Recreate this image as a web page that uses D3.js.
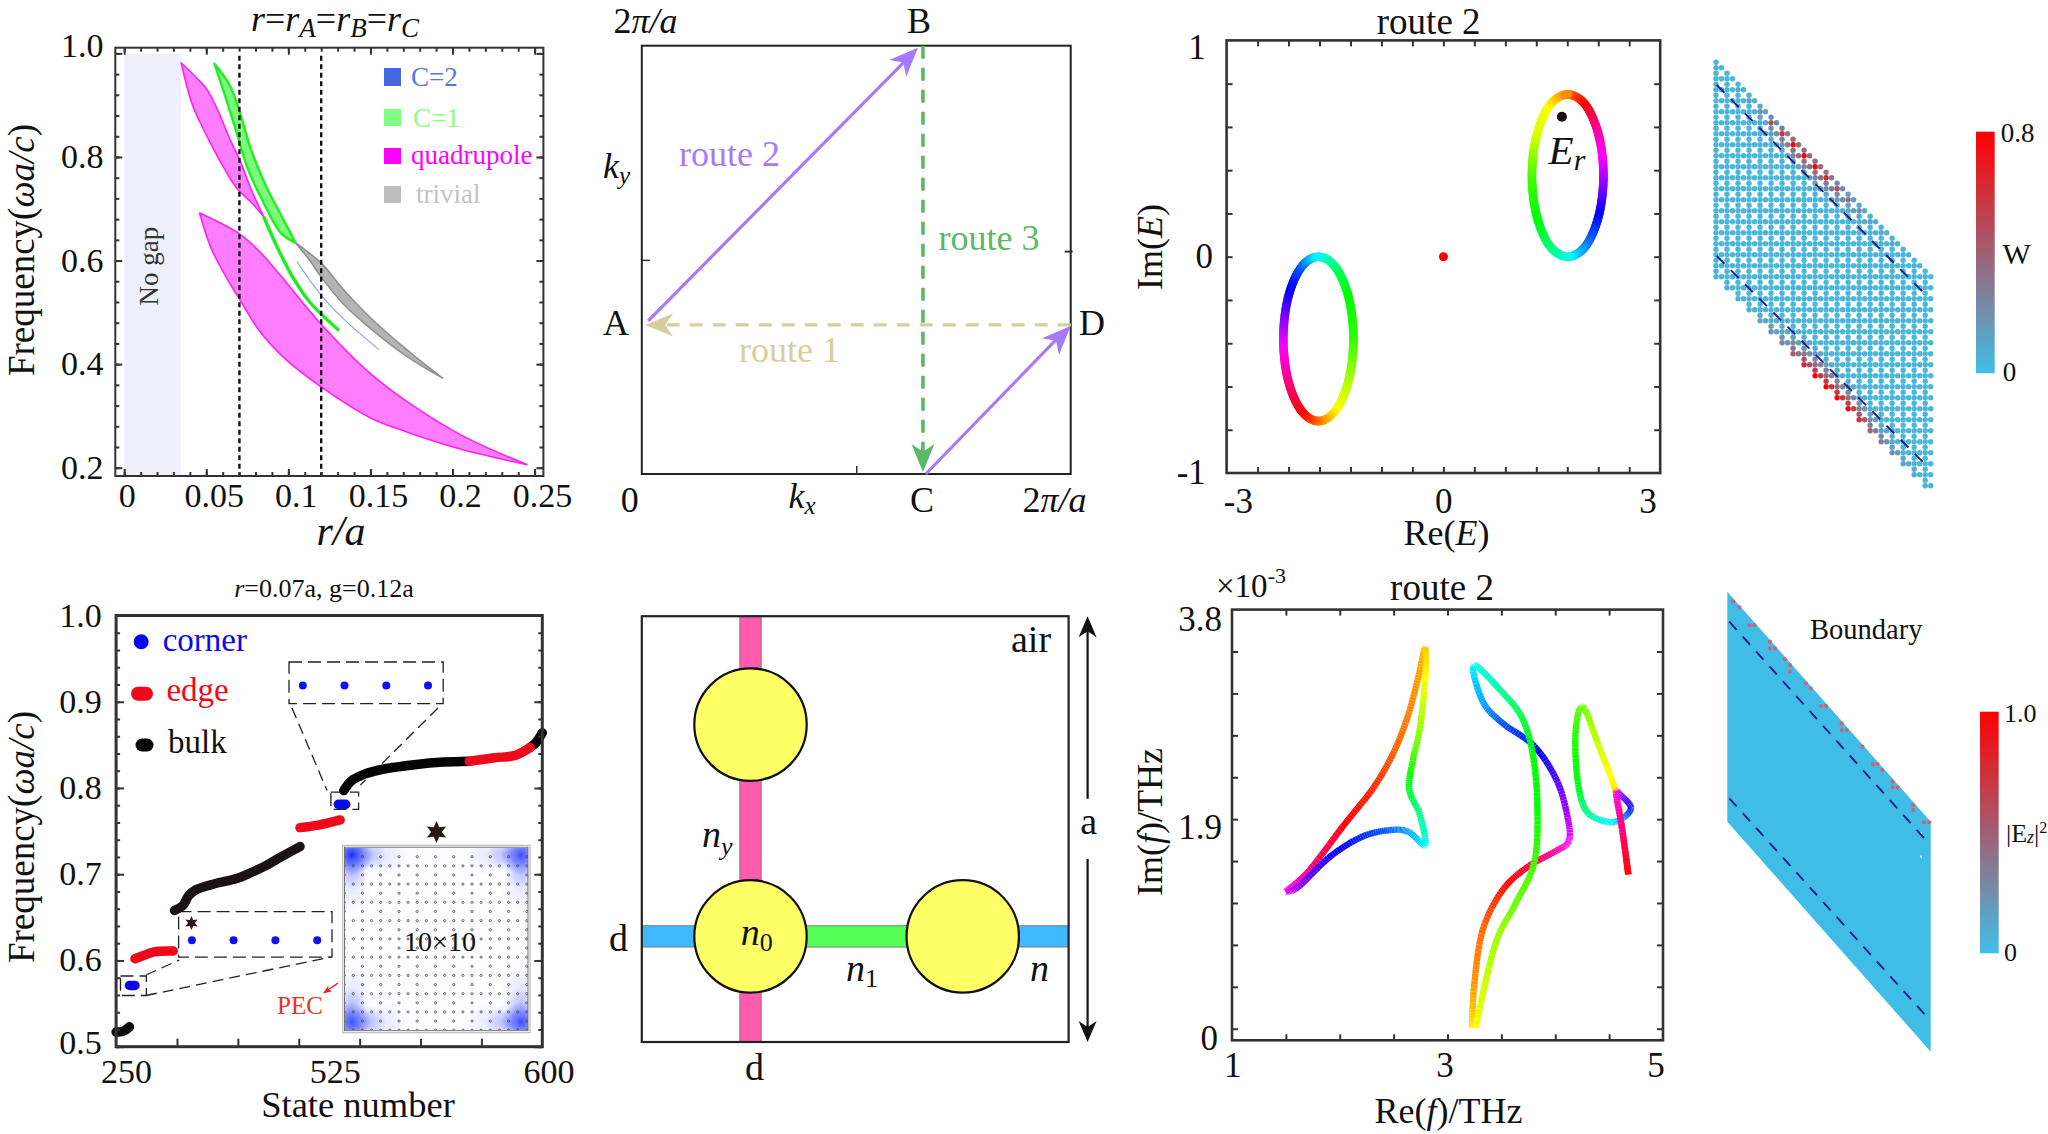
<!DOCTYPE html>
<html><head><meta charset="utf-8">
<style>html,body{margin:0;padding:0;background:#fff}svg{display:block}text{font-family:"Liberation Serif",serif;fill:#111}</style>
<script src="https://cdn.jsdelivr.net/npm/d3@7/dist/d3.min.js"></script></head><body>
<script>
// ---------- panel (a) phase diagram, band edges as [r/a, frequency]
const magentaTopUpper=[[.0347,.982],[.0437,.954],[.0505,.930],[.0572,.889],[.0640,.837],[.0707,.792],[.0775,.736],[.0849,.685]];
const magentaTopLower=[[.0347,.982],[.0414,.902],[.0482,.854],[.0572,.799],[.0685,.740],[.0775,.712],[.0849,.685]];
const greenTopUpper=[[.0550,.980],[.0640,.940],[.0696,.895],[.0775,.812],[.0865,.743],[.0955,.688],[.1045,.634]];
const greenTopLower=[[.0550,.980],[.0617,.916],[.0685,.847],[.0752,.778],[.0842,.716],[.0955,.653],[.1045,.634]];
const greenThin=[[.0849,.685],[.0932,.626],[.1023,.570],[.1135,.518],[.1309,.465]];
const grayUpper=[[.1045,.634],[.1203,.594],[.1338,.543],[.1495,.491],[.1721,.428],[.1939,.373]];
const grayLower=[[.1045,.634],[.1135,.598],[.1203,.567],[.1338,.515],[.1495,.470],[.1721,.415],[.1939,.373]];
const blueThin=[[.1052,.598],[.1203,.532],[.1338,.487],[.1552,.428]];
const magentaLowUpper=[[.0459,.692],[.0696,.653],[.0820,.619],[.0955,.570],[.1200,.477],[.1495,.383],[.1721,.328],[.2059,.262],[.2453,.206]];
const magentaLowLower=[[.0459,.692],[.0527,.626],[.0617,.570],[.0696,.529],[.0820,.466],[.0977,.411],[.1200,.356],[.1495,.297],[.1721,.269],[.2059,.235],[.2453,.206]];
const noGapEnd=.0347, dashedR=[.0702,.12];
const legendNames=['C=2','C=1','quadrupole','trivial'];
const legendSwatch=['#4466e0','#80ff80','#ff00ff','#bdbdbd'];
const legendText=['#5577e6','#88ff88','#ff00ff','#c4c4c4'];
const aYTicks=[.2,.4,.6,.8,1.0], aXTicks=[0,.05,.1,.15,.2,.25];
// ---------- panel (e) state spectrum as [state, frequency]
const bulk1=[[250,.517],[256,.518],[261,.523]];
const corner1=[[261,.571],[265.5,.571]];
const edge1=[[265.5,.602],[273,.606],[281,.610],[297,.611]];
const bulk2=[[298,.658],[305,.664],[309.5,.675],[315.6,.682],[331,.689],[349,.695],[361,.702],[373,.710],[385.4,.720],[401,.732]];
const edge2=[[401,.754],[416,.757],[434,.763]];
const corner2=[[432.5,.781],[438.5,.781]];
const bulk3=[[437,.797],[443,.808],[454,.816],[470,.822],[495,.827],[519,.830],[540,.831]];
const edge3=[[540,.831],[561,.835],[578,.838],[590,.847]];
const bulk4=[[590,.847],[595,.853],[600,.864]];
const eYTicks=[.5,.6,.7,.8,.9,1.0];
const eXTickLabels=['250','525','600'];
// ---------- panel (b) routes in units of 2π/a
const routeA=[0.01,.348], routeB=[.652,1], routeC=[.652,0], routeC2=[.662,0], routeD=[1,.348];
// ---------- panel (f) unit cell
const rodU=[.2547,.2547,.752], rodV=[.7454,.248,.248];
// ---------- panel (c) Re/Im E loops
const loopAx=[1.72,1.97,2.15,2.215,2.15,1.97,1.72,1.47,1.29,1.225,1.29,1.47];
const loopAy=[.75,.70,.56,.375,.19,.05,0,.05,.19,.375,.56,.70];
const loopAh=[30,0,-40,-75,-120,-150,-180,-210,-240,-255,-290,-300];
const loopBx=[-1.73,-1.49,-1.31,-1.245,-1.31,-1.49,-1.73,-1.97,-2.15,-2.215,-2.15,-1.97];
const loopBy=[0,-.05,-.19,-.38,-.57,-.71,-.76,-.71,-.57,-.38,-.19,-.05];
const loopBh=[-180,-210,-240,-250,-280,-300,-330,-360,-390,-425,-470,-500];
// ---------- panel (g) Re/Im f curves
const c1x=[1.498,1.714,2.047,2.312,2.495,2.628,2.728,2.794,2.794,2.744,2.678,2.645,2.744,2.794,2.645,2.478,2.213,1.914,1.615,1.498];
const c1y=[1.243,1.432,1.857,2.184,2.495,2.822,3.182,3.460,3.182,2.724,2.430,2.168,1.939,1.661,1.782,1.802,1.743,1.563,1.285,1.243];
const c1h=[300,330,360,370,382,390,397,405,420,445,470,490,515,540,560,575,590,605,635,660];
const c2x=[3.226,3.249,3.326,3.508,3.741,4.007,4.123,4.123,4.023,3.807,3.508,3.326,3.243,3.508,3.691,3.791,3.834,3.807,3.625,3.442,3.259];
const c2y=[.01,.402,.893,1.252,1.465,1.612,1.694,1.874,2.233,2.560,2.773,2.969,3.296,3.051,2.822,2.495,2.037,1.514,1.122,.762,.01];
const c2h=[55,35,25,5,-15,-40,-60,-75,-100,-125,-140,-160,-180,-205,-225,-240,-240,-255,-265,-280,-300];
const c3x=[4.678,4.621,4.565,4.605,4.704,4.621,4.488,4.289,4.206,4.189,4.256,4.405,4.555,4.621,4.678];
const c3y=[1.400,1.808,2.135,2.119,2.005,1.906,1.874,1.972,2.266,2.691,2.920,2.560,2.168,1.808,1.400];
const c3h=[0,-30,-60,-90,-120,-160,-180,-210,-240,-250,-265,-290,-305,-330,-360];
// ---------- panel (d) lattice intensity, one value per even lattice column
const wTopEdge=[.05,.05,.08,.12,.2,.45,.6,.8,.8,.8,.65,.5,.3,.2,.12,.1,.08,.06,.05,.05];
const wBottomEdge=[.05,.05,.06,.08,.1,.18,.25,.45,.65,.8,.8,.8,.75,.6,.4,.28,.2,.12,.08,.05];
const wTopDepth=[.45,1,.42,.3,.15,.08,.04];
const wBottomDepth=[1,.72,.45,.3,.18,.1,.05];
// ---------- panel (h) hot spots along the upper edge, white specks
const hotX=[18,36,66,81,128,128,143,173,188,188,236,250,281,296,343,343,358,405,436,450,465,496,496,511,558,558,590,605];
const hotY=[30,47,100,100,150,170,170,203,220,240,275,290,343,343,395,415,415,465,517,517,535,570,587,587,640,655,692,692];
const speckX=[581,581], speckY=[725,795];

const svg=d3.select('body').append('svg').attr('width',2048).attr('height',1134).attr('viewBox','0 0 2048 1134');
const defs=svg.append('defs');
function txt(x,y,parts,o={}){
  const t=svg.append('text').attr('x',x).attr('y',y).attr('font-size',o.size||33)
    .attr('text-anchor',o.anchor||'start');
  if(o.fill)t.style('fill',o.fill);
  if(o.rot)t.attr('transform',`rotate(${o.rot} ${x} ${y})`);
  if(o.weight)t.attr('font-weight',o.weight);
  (Array.isArray(parts)?parts:[parts]).forEach(p=>{
    if(typeof p==='string')p={t:p};
    const s=t.append('tspan').text(p.t);
    if(p.i)s.attr('font-style','italic');
    if(p.size)s.attr('font-size',p.size);
    if(p.dy)s.attr('dy',p.dy);
    if(p.dx)s.attr('dx',p.dx);
  });
  return t;
}
function frame(x0,x1,y0,y1,stroke,w){
  svg.append('rect').attr('x',x0).attr('y',y0).attr('width',x1-x0).attr('height',y1-y0)
    .attr('fill','none').attr('stroke',stroke||'#333').attr('stroke-width',w||2.5);
}
function ticks(axisFn,scale,vals,len,tx,ty,color,w){
  const g=svg.append('g').attr('transform',`translate(${tx},${ty})`)
    .call(axisFn(scale).tickValues(vals).tickSize(-len).tickFormat(''));
  g.select('.domain').remove();
  g.selectAll('line').attr('stroke',color||'#333').attr('stroke-width',w||2);
}
function allTicks(x,y,xMaj,xMin,yMaj,yMin,box,lenMaj,lenMin,sides){
  const [x0,x1,y0,y1]=box;
  const s=sides||'lrbt';
  if(s.includes('b')){ticks(d3.axisBottom,x,xMin,lenMin,0,y1);ticks(d3.axisBottom,x,xMaj,lenMaj,0,y1);}
  if(s.includes('t')){ticks(d3.axisTop,x,xMin,lenMin,0,y0);ticks(d3.axisTop,x,xMaj,lenMaj,0,y0);}
  if(s.includes('l')){ticks(d3.axisLeft,y,yMin,lenMin,x0,0);ticks(d3.axisLeft,y,yMaj,lenMaj,x0,0);}
  if(s.includes('r')){ticks(d3.axisRight,y,yMin,lenMin,x1,0);ticks(d3.axisRight,y,yMaj,lenMaj,x1,0);}
}
function head(tip,from,L,W,fill){
  const a=Math.atan2(tip[1]-from[1],tip[0]-from[0]);
  const pt=(d,s)=>[tip[0]-d*Math.cos(a)-s*Math.sin(a),tip[1]-d*Math.sin(a)+s*Math.cos(a)];
  const p=[tip,pt(L,W/2),pt(L*.72,0),pt(L,-W/2)];
  svg.append('path').attr('d','M'+p.join('L')+'Z').attr('fill',fill);
}
function star(cx,cy,R,r,fill){
  const pts=d3.range(12).map(i=>[i*Math.PI/6,i%2?r:R]);
  svg.append('path').attr('transform',`translate(${cx},${cy})`)
    .attr('d',d3.lineRadial().curve(d3.curveLinearClosed)(pts)).attr('fill',fill);
}
function ribbon(xs,ys,hs,x,y,w,closed,reverse,cap){
  const n=xs.length, segs=[];
  const idx=i=>closed?(i+n)%n:Math.max(0,Math.min(n-1,i));
  const m=closed?n:n-1;
  const cr=(a,b,c,d,t)=>.5*(2*b+(c-a)*t+(2*a-5*b+4*c-d)*t*t+(3*b-a-3*c+d)*t*t*t);
  const px=[];
  for(let i=0;i<m;i++){
    const j=[i-1,i,i+1,i+2].map(idx);
    let h0=hs[i],h1=(closed&&i===n-1)?hs[0]-360:hs[i+1];
    for(let k=0;k<14;k++){
      const t=k/14;
      px.push({x:cr(xs[j[0]],xs[j[1]],xs[j[2]],xs[j[3]],t),y:cr(ys[j[0]],ys[j[1]],ys[j[2]],ys[j[3]],t),h:h0+(h1-h0)*t});
    }
  }
  px.push(closed?{...px[0]}:{x:xs[n-1],y:ys[n-1],h:hs[n-1]});
  for(let i=0;i<px.length-1;i++)segs.push([px[i],px[i+1]]);
  if(reverse)segs.reverse();
  const ln=d3.line().x(d=>x(d.x)).y(d=>y(d.y));
  svg.append('g').selectAll('path').data(segs).join('path').attr('d',ln).attr('fill','none')
    .attr('stroke-width',w).attr('stroke-linecap',cap||'round')
    .attr('stroke',d=>d3.hsl(((d[0].h%360)+360)%360,1,.5).formatRgb());
}
// ======================= panel a =======================
{
const box=[115.3,543.4,47.7,476];
const x=d3.scaleLinear([0,.25],[124.2,534.6]), y=d3.scaleLinear([.2,1],[467.7,53.4]);
svg.append('rect').attr('x',x(0)).attr('y',y(1)).attr('width',x(noGapEnd)-x(0)).attr('height',box[3]-y(1)-1).attr('fill','#f0f0fd');
const ln=d3.line().x(d=>x(d[0])).y(d=>y(d[1])).curve(d3.curveCatmullRom);
const band=(u,l,f,s,w)=>svg.append('path').attr('d',ln(u)+'L'+ln(l.slice().reverse()).slice(1)+'Z').attr('fill',f).attr('stroke',s).attr('stroke-width',w).attr('stroke-linejoin','round');
band(magentaTopUpper,magentaTopLower,'#ff7dff','#ff22ee',1.6);
band(magentaLowUpper,magentaLowLower,'#ff7dff','#ff22ee',1.6);
band(greenTopUpper,greenTopLower,'#7dfb7d','#22ee22',2.4);
band(grayUpper,grayLower,'#b4b4b4','#909090',1.6);
svg.append('path').attr('d',ln(greenThin)).attr('fill','none').attr('stroke','#1eee1e').attr('stroke-width',3.4);
svg.append('path').attr('d',ln(blueThin)).attr('fill','none').attr('stroke','#90a4f4').attr('stroke-width',1.2);
dashedR.forEach(r=>svg.append('line').attr('x1',x(r)).attr('x2',x(r)).attr('y1',box[2]+8).attr('y2',box[3])
  .attr('stroke','#111').attr('stroke-width',2.4).attr('stroke-dasharray','5 3.5'));
frame(box[0],box[1],box[2],box[3],'#333',2);
allTicks(x,y,aXTicks,d3.range(0,.2501,.01),aYTicks,d3.range(.2,1.001,.04),box,7,4);
legendNames.forEach((n,i)=>{
  const ys=[68,109,148,186][i], hs=[18,17,16,17][i];
  svg.append('rect').attr('x',384).attr('y',ys).attr('width',17).attr('height',hs).attr('fill',legendSwatch[i]);
  txt([411,413,411,416][i],[85.5,127,164,202.5][i],n,{size:27,fill:legendText[i]});
});
aYTicks.forEach(v=>txt(103.5,y(v)+(v===1?4:11),v.toFixed(1),{anchor:'end',size:34}));
aXTicks.forEach((v,i)=>txt(x(v)+(i?8:3),507,String(v),{anchor:'middle',size:34}));
txt(34,250,['Frequency(',{t:'ωa/c',i:1},')'],{rot:-90,anchor:'middle',size:37});
txt(341,545,[{t:'r/a',i:1}],{anchor:'middle',size:42});
txt(158,266,'No gap',{rot:-90,anchor:'middle',size:27,fill:'#333'});
txt(251,30.5,[{t:'r',i:1},'=',{t:'r',i:1},{t:'A',i:1,size:27,dy:6},{t:'=',dy:-6},{t:'r',i:1},{t:'B',i:1,size:27,dy:6},{t:'=',dy:-6},{t:'r',i:1},{t:'C',i:1,size:27,dy:6}],{size:36});
}
// ======================= panel e =======================
{
const box=[116.1,542.3,615.5,1046.7];
const x=d3.scaleLinear([250,600],[box[0],box[1]]), y=d3.scaleLinear([.5,1],[box[3],box[2]]);
const ln=d3.line().x(d=>x(d[0])).y(d=>y(d[1])).curve(d3.curveCatmullRom);
// inset
const ix=d3.scaleLinear([0,19],[353.3,526.8]), iy=d3.scaleLinear([0,19],[856.7,1030.2]);
const rg=defs.append('radialGradient').attr('id','glow');
rg.append('stop').attr('offset','0').attr('stop-color','#1c2cff').attr('stop-opacity',1);
rg.append('stop').attr('offset','.45').attr('stop-color','#3c50ff').attr('stop-opacity',.75);
rg.append('stop').attr('offset','1').attr('stop-color','#6070ff').attr('stop-opacity',0);
svg.append('clipPath').attr('id','ic').append('rect').attr('x',345).attr('y',848).attr('width',183).attr('height',182);
const ig=svg.append('g').attr('clip-path','url(#ic)');
ig.insert('rect').attr('x',345).attr('y',848).attr('width',183).attr('height',182).attr('fill','#fdfdff');
[[0,0,1,21],[20,0,.85,20],[0,20,.85,20],[20,20,.85,20]].forEach(([a,b,o,r])=>{
  const cx=a?521:352, cy=b?1022:855;
  ig.append('circle').attr('cx',cx).attr('cy',cy).attr('r',r).attr('fill','url(#glow)').attr('opacity',o);
  [[a?-18:18,0],[0,b?-18:18]].forEach(([dx,dy])=>ig.append('circle').attr('cx',cx+dx).attr('cy',cy+dy).attr('r',17).attr('fill','url(#glow)').attr('opacity',.28));
  [[a?-36:36,0],[0,b?-36:36]].forEach(([dx,dy])=>ig.append('circle').attr('cx',cx+dx).attr('cy',cy+dy).attr('r',20).attr('fill','url(#glow)').attr('opacity',.09));
});
const nodes=[];
d3.range(-1,20).forEach(i=>d3.range(0,20).forEach(j=>{if(Math.abs(i%2)===1||j%2===1)nodes.push([i,j]);}));
ig.append('g').selectAll('circle').data(nodes).join('circle').attr('cx',d=>ix(d[0])).attr('cy',d=>iy(d[1]))
  .attr('r',1.1).attr('fill','none').attr('stroke','#444').attr('stroke-width',.8);
svg.append('rect').attr('x',342.7).attr('y',845.3).attr('width',187.3).attr('height',187.4).attr('fill','none').attr('stroke','#bbb').attr('stroke-width',1.2);
svg.append('rect').attr('x',344.5).attr('y',847.2).attr('width',183.5).attr('height',183.5).attr('fill','none').attr('stroke','#666').attr('stroke-width',.9);
txt(440,950.7,'10×10',{anchor:'middle',size:28});
// zoom guides
const dash=(p,q)=>svg.append('line').attr('x1',p[0]).attr('y1',p[1]).attr('x2',q[0]).attr('y2',q[1]).attr('stroke','#222').attr('stroke-width',1.3).attr('stroke-dasharray','11 6');
[[289,662,154.2,41.7],[330.9,792.2,27.7,17.2],[178.6,911.6,153.4,45.5],[120.5,976,25.9,19.5]].forEach(([a,b,w,h])=>
  svg.append('rect').attr('x',a).attr('y',b).attr('width',w).attr('height',h).attr('fill','none').attr('stroke','#222').attr('stroke-width',1.3).attr('stroke-dasharray','13 6'));
dash([292,708],[327,790.4]);dash([438,708],[360.4,785]);dash([146,975],[179.3,960]);dash([146,995.5],[330.9,957]);
[302.8,344.5,386.3,428].forEach(v=>svg.append('circle').attr('cx',v).attr('cy',685.4).attr('r',4).attr('fill','#1010ee'));
[191.9,233.6,275.4,317.2].forEach(v=>svg.append('circle').attr('cx',v).attr('cy',940.3).attr('r',4).attr('fill','#1010ee'));
star(191.5,923,7,3.4,'#2a1a14');
star(436.5,832,11,5.5,'#2a1a14');
// spectrum
[[bulk1,'#0a0a0a'],[bulk2,'#1a1214'],[bulk3,'#050505'],[bulk4,'#050505'],[edge1,'#ee0a1a'],[edge2,'#ee0a1a'],[edge3,'#ee0a1a'],[corner1,'#0808ee'],[corner2,'#0808ee']].forEach(([d,c])=>
  svg.append('path').attr('d',ln(d)).attr('fill','none').attr('stroke',c).attr('stroke-width',9.5).attr('stroke-linecap','round'));
frame(box[0],box[1],box[2],box[3],'#333',3);
allTicks(x,y,d3.range(300,551,50),[],eYTicks,d3.range(.5,1.001,.02),box,8,4,'blr');
// legend
svg.append('circle').attr('cx',141.2).attr('cy',641.7).attr('r',7.5).attr('fill','#0808ee');
svg.append('line').attr('x1',138).attr('x2',146).attr('y1',693.7).attr('y2',693.7).attr('stroke','#ee0a1a').attr('stroke-width',14).attr('stroke-linecap','round');
svg.append('line').attr('x1',142).attr('x2',147).attr('y1',745).attr('y2',745).attr('stroke','#050505').attr('stroke-width',13).attr('stroke-linecap','round');
txt(162.7,650.6,'corner',{size:33,fill:'#0808ee'});
txt(166.4,701,'edge',{size:33,fill:'#ee0a1a'});
txt(168,753,'bulk',{size:33});
eYTicks.forEach(v=>txt(101.7,y(v)+(v===.5?7:11),v.toFixed(1),{anchor:'end',size:34}));
[126.4,335.3,549].forEach((p,i)=>txt(p,1082.5,eXTickLabels[i],{anchor:'middle',size:34}));
txt(358,1116.6,'State number',{anchor:'middle',size:36.5});
txt(34,837,['Frequency(',{t:'ωa/c',i:1},')'],{rot:-90,anchor:'middle',size:37});
txt(324,597,[{t:'r',i:1},'=0.07a, g=0.12a'],{anchor:'middle',size:26});
txt(277,1013.7,'PEC',{size:25,fill:'#ee3322'});
svg.append('line').attr('x1',338).attr('y1',983).attr('x2',328).attr('y2',990).attr('stroke','#e02020').attr('stroke-width',1.5);
head([323,993.5],[338,983],9,7,'#e02020');
}
// ======================= panel b =======================
{
const box=[641.8,1070.7,45.7,474];
const x=d3.scaleLinear([0,1],[box[0],box[1]]), y=d3.scaleLinear([0,1],[box[3],box[2]]);
const P=p=>[x(p[0]),y(p[1])];
frame(box[0],box[1],box[2],box[3],'#222',2);
const seg=(a,b,c,w,d)=>{
  svg.append('line').attr('x1',a[0]).attr('y1',a[1]).attr('x2',b[0]).attr('y2',b[1]).attr('stroke',c).attr('stroke-width',w).attr('stroke-dasharray',d||null);
};
ticks(d3.axisLeft,y,[.5],8,box[0],0,'#333',1.5);
svg.append('line').attr('x1',box[1]-6).attr('x2',box[1]+2).attr('y1',251.6).attr('y2',251.6).attr('stroke','#222').attr('stroke-width',1.8);
ticks(d3.axisBottom,x,[.5],8,0,box[3],'#333',1.5);
const A=P(routeA),B=P(routeB),C=P(routeC),C2=P(routeC2),D=P(routeD);
const pur='#a57bfa',grn='#5bb866',kha='#d6cf9d';
seg(D,[A[0]+15,A[1]],kha,3.2,'13 10');
head([A[0]-1,A[1]],D,28,23,kha);
seg([B[0]+1.5,B[1]],[C[0]+1.5,C[1]-20],grn,3.6,'13 9');
head([C[0]+1.5,C[1]-2],[B[0]+1.5,B[1]],28,23,grn);
seg([A[0]+2,A[1]-4],[B[0]-12,B[1]+11],pur,3.2);
head([B[0]-3.5,B[1]+2],A,29,24,pur);
seg(C2,[D[0]-10,D[1]+10],pur,3.2);
head([D[0],D[1]+1],C2,29,24,pur);
txt(613.5,32.8,['2',{t:'π/a',i:1}],{size:36});
txt(919,32.8,'B',{anchor:'middle',size:36});
txt(603,177.8,[{t:'k',i:1},{t:'y',i:1,size:25,dy:6}],{size:36});
txt(616,335,'A',{anchor:'middle',size:36});
txt(1092,335,'D',{anchor:'middle',size:36});
txt(679,166,'route 2',{size:36,fill:pur});
txt(938.5,250,'route 3',{size:36,fill:grn});
txt(739,361.7,'route 1',{size:36,fill:kha});
txt(629.7,512,'0',{anchor:'middle',size:36});
txt(788.4,508,[{t:'k',i:1},{t:'x',i:1,size:25,dy:6}],{size:36});
txt(922,512,'C',{anchor:'middle',size:36});
txt(1022.4,512,['2',{t:'π/a',i:1}],{size:36});
}
// ======================= panel f =======================
{
const box=[641.8,1068.6,616.2,1042];
const x=d3.scaleLinear([0,1],[box[0],box[1]]), y=d3.scaleLinear([0,1],[box[3],box[2]]);
const hw=.025;
const bar=(u0,u1,v0,v1,c)=>svg.append('rect').attr('x',x(u0)).attr('y',y(v1)).attr('width',x(u1)-x(u0)).attr('height',y(v0)-y(v1)).attr('fill',c).attr('stroke','#777').attr('stroke-width',.9);
bar(rodU[0]-hw,rodU[0]+hw,0,1,'#ff5cb0');
bar(0,rodU[0],rodV[1]-hw,rodV[1]+hw,'#40b8ff');
bar(rodU[0],rodU[2],rodV[1]-hw,rodV[1]+hw,'#55ff55');
bar(rodU[2],1,rodV[1]-hw,rodV[1]+hw,'#40b8ff');
rodU.forEach((u,i)=>svg.append('circle').attr('cx',x(u)).attr('cy',y(rodV[i])).attr('r',56.2).attr('fill','#ffff66').attr('stroke','#111').attr('stroke-width',2.2));
frame(box[0],box[1],box[2],box[3],'#222',2.2);
svg.append('line').attr('x1',1087.6).attr('x2',1087.6).attr('y1',630).attr('y2',798.8).attr('stroke','#111').attr('stroke-width',2.2);
svg.append('line').attr('x1',1087.6).attr('x2',1087.6).attr('y1',859).attr('y2',1030).attr('stroke','#111').attr('stroke-width',2.2);
head([1087.6,616.2],[1087.6,700],21,18,'#111');
head([1087.6,1042],[1087.6,900],21,18,'#111');
txt(1011,652,'air',{size:38});
txt(1088.6,834,'a',{anchor:'middle',size:38});
txt(618.6,950.6,'d',{anchor:'middle',size:38});
txt(754.6,1080,'d',{anchor:'middle',size:38});
txt(702,847,[{t:'n',i:1},{t:'y',i:1,size:26,dy:8}],{size:38});
txt(740.8,945.4,[{t:'n',i:1},{t:'0',size:26,dy:6}],{size:38});
txt(846,981,[{t:'n',i:1},{t:'1',size:26,dy:6}],{size:38});
txt(1030,981,[{t:'n',i:1}],{size:38});
}
// ======================= panel c =======================
{
const box=[1226.6,1660.2,40.4,473];
const x=d3.scaleLinear([-3,3],[box[0],box[1]]), y=d3.scaleLinear([-1,1],[box[3],box[2]]);
ribbon(loopBx,loopBy,loopBh,x,y,8.6,true);
ribbon(loopAx,loopAy,loopAh,x,y,8.6,true);
svg.append('circle').attr('cx',x(0)).attr('cy',y(0)).attr('r',4.5).attr('fill','#f00');
svg.append('circle').attr('cx',x(1.64)).attr('cy',y(.647)).attr('r',5).attr('fill','#1a1212');
frame(box[0],box[1],box[2],box[3],'#333',2.6);
allTicks(x,y,d3.range(-6,7).map(k=>k*3/7),[],d3.range(-4,5).map(k=>k*.2),[],box,6,0);
txt(1548.6,163.9,[{t:'E',i:1},{t:'r',i:1,size:30,dy:6}],{size:41});
txt(1238.4,513.4,'-3',{anchor:'middle',size:35});txt(1443.8,513.4,'0',{anchor:'middle',size:35});txt(1648,513.4,'3',{anchor:'middle',size:35});
txt(1205.8,59,'1',{anchor:'end',size:35});txt(1213,268,'0',{anchor:'end',size:35});txt(1205.8,483.7,'-1',{anchor:'end',size:35});
txt(1446.6,544.5,['Re(',{t:'E',i:1},')'],{anchor:'middle',size:36});
txt(1161.5,247,['Im(',{t:'E',i:1},')'],{rot:-90,anchor:'middle',size:36});
txt(1428.7,34,'route 2',{anchor:'middle',size:37});
}
// ======================= panel g =======================
{
const box=[1232,1663,609.6,1040.3];
const x=d3.scaleLinear([1,5],[box[0],box[1]]), y=d3.scaleLinear([-.105,3.8],[box[3],box[2]]);
ribbon(c1x,c1y,c1h,x,y,6.4,false,false,'butt');
ribbon(c2x,c2y,c2h,x,y,6.4,false,false,'butt');
ribbon(c3x,c3y,c3h,x,y,6.4,false,true,'butt');
frame(box[0],box[1],box[2],box[3],'#333',2.6);
allTicks(x,y,d3.range(1.5,4.6,.5),[],d3.range(0,10).map(k=>k*.38),[],box,6,0);
txt(1221.9,630.5,'3.8',{anchor:'end',size:35});txt(1221.9,838.5,'1.9',{anchor:'end',size:35});txt(1218,1050,'0',{anchor:'end',size:35});
txt(1232.7,1077,'1',{anchor:'middle',size:35});txt(1445,1077,'3',{anchor:'middle',size:35});txt(1656,1077,'5',{anchor:'middle',size:35});
txt(1216,597,['×10',{t:'-3',size:22,dy:-14}],{size:33});
txt(1442,599.5,'route 2',{anchor:'middle',size:37});
txt(1448.4,1123,['Re(',{t:'f',i:1},')/THz'],{anchor:'middle',size:36});
txt(1161.5,822,['Im(',{t:'f',i:1},')/THz'],{rot:-90,anchor:'middle',size:36});
}
// ======================= panel d =======================
{
const lx=d3.scaleLinear([0,39],[1716,1930.7]), ly=d3.scaleLinear([0,76],[67.7,485.7]);
const col=d3.scaleLinear([0,.8],['#41bfe6','#ff0000']).clamp(true);
const pts=[];
d3.range(0,40).forEach(i=>d3.range(-1,78).forEach(j=>{
  if(Math.abs(i%2)===1&&Math.abs(j%2)===1)return;
  if(j<i-1||j>i+38)return;
  const c=Math.floor(i/2), d=j-i+1, e=i+38-j;
  const wt=(wTopDepth[d]||0)*wTopEdge[c], wb=(wBottomDepth[e]||0)*wBottomEdge[c];
  pts.push({i,j,w:Math.max(.035,wt,wb)});
}));
pts.sort((a,b)=>a.w-b.w);
svg.append('g').selectAll('circle').data(pts).join('circle').attr('cx',d=>lx(d.i)).attr('cy',d=>ly(d.j)).attr('r',2.7).attr('fill',d=>col(d.w));
[[1716.7,85,1925,294],[1716.7,256,1925,464]].forEach(([a,b,c,d])=>svg.append('line').attr('x1',a).attr('y1',b).attr('x2',c).attr('y2',d).attr('stroke','#1c1c86').attr('stroke-width',1.9).attr('stroke-dasharray','11 9'));
const g=defs.append('linearGradient').attr('id','cb').attr('x1',0).attr('x2',0).attr('y1',1).attr('y2',0);
g.append('stop').attr('offset',0).attr('stop-color','#41bfe6');g.append('stop').attr('offset',1).attr('stop-color','#ff0000');
svg.append('rect').attr('x',1976).attr('y',131.7).attr('width',18.7).attr('height',241.6).attr('fill','url(#cb)');
txt(2000.7,141.7,'0.8',{size:27});txt(2016.7,264,'W',{anchor:'middle',size:30});txt(2002.7,380.7,'0',{size:27});
}
// ======================= panel h =======================
{
const hx=d3.scaleLinear([0,610],[1727.3,1930.7]), hy=d3.scaleLinear([0,1380],[591.7,1051.7]);
const poly=[[0,0],[610,690],[610,1380],[0,690]];
svg.append('path').attr('d',d3.line().x(d=>hx(d[0])).y(d=>hy(d[1])).curve(d3.curveLinearClosed)(poly)).attr('fill','#40bde6');
svg.append('g').selectAll('circle').data(hotX).join('circle').attr('cx',d=>hx(d)).attr('cy',(d,i)=>hy(hotY[i])).attr('r',2.1).attr('fill','#d85a6c').attr('opacity',.9);
svg.append('g').selectAll('circle').data(speckX).join('circle').attr('cx',d=>hx(d)).attr('cy',(d,i)=>hy(speckY[i])).attr('r',1.1).attr('fill','#fff');
[[1729.3,621.7,1927.3,841.7],[1729.3,798.3,1927.3,1017.3]].forEach(([a,b,c,d])=>svg.append('line').attr('x1',a).attr('y1',b).attr('x2',c).attr('y2',d).attr('stroke','#1c1c86').attr('stroke-width',1.9).attr('stroke-dasharray','11 9'));
const g=defs.append('linearGradient').attr('id','cb2').attr('x1',0).attr('x2',0).attr('y1',1).attr('y2',0);
g.append('stop').attr('offset',0).attr('stop-color','#41bfe6');g.append('stop').attr('offset',1).attr('stop-color','#ff0000');
svg.append('rect').attr('x',1980).attr('y',711.7).attr('width',18.7).attr('height',241.6).attr('fill','url(#cb2)');
txt(2004,721.7,'1.0',{size:26});txt(2004,960.7,'0',{size:26});
txt(2006,841.7,['|E',{t:'z',i:1,size:18,dy:1},{t:'|',dy:-1},{t:'2',size:16,dy:-9}],{size:26});
txt(1810,639,'Boundary',{size:28.5});
}
</script></body></html>
